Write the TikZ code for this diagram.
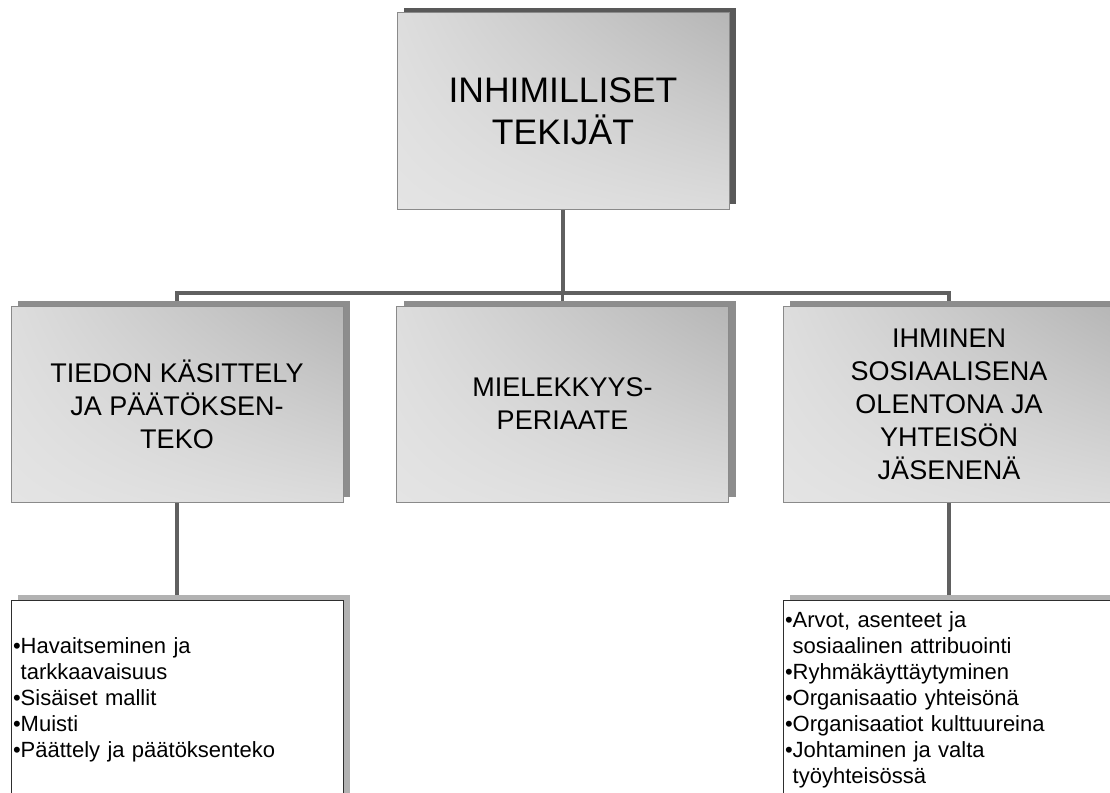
\documentclass[tikz,border=0pt]{standalone}
\usepackage{fontspec}
\setmainfont{Liberation Sans}
\usetikzlibrary{shadows,shadings,backgrounds}
\definecolor{connc}{HTML}{606060}
\definecolor{boxborder}{HTML}{8A8A8A}
\definecolor{listborder}{HTML}{2E2E2E}
\definecolor{shadowdark}{HTML}{595959}
\definecolor{shadowmid}{HTML}{8D8D8D}
\definecolor{shadowlight}{HTML}{B2B2B2}
\definecolor{gUL}{HTML}{DDDDDD}
\definecolor{gUR}{HTML}{B6B6B6}
\definecolor{gLL}{HTML}{E4E4E4}
\definecolor{gLR}{HTML}{DCDCDC}
\tikzset{
  gbox/.style={rectangle, minimum width=332pt, minimum height=196pt, inner sep=0pt,
    draw=boxborder, line width=1pt, upper left=gUL, upper right=gUR,
    lower left=gLL, lower right=gLR, align=center},
  topbox/.style={gbox, drop shadow={shadow xshift=7pt, shadow yshift=5pt, fill=shadowdark, opacity=1},
    font=\fontsize{35.5}{42}\selectfont},
  midbox/.style={gbox, drop shadow={shadow xshift=7pt, shadow yshift=5pt, fill=shadowmid, opacity=1},
    font=\fontsize{27}{33}\selectfont},
  listbox/.style={rectangle, minimum height=200pt, text width=328pt, inner xsep=2pt, inner ysep=0pt,
    draw=listborder, line width=0.8pt, fill=white, align=left,
    drop shadow={shadow xshift=7pt, shadow yshift=5pt, fill=shadowlight, opacity=1},
    font=\fontsize{22}{26}\selectfont},
  conn/.style={draw=connc, line width=3.5pt}
}
\begin{document}
\begin{tikzpicture}[x=1pt,y=-1pt]
\path[use as bounding box] (0,0) rectangle (1110,792);
\clip (0,0) rectangle (1110,792);

\node[topbox] (top) at (563,111) {INHIMILLISET\\TEKIJÄT};
\node[midbox] (L) at (177,404) {TIEDON KÄSITTELY\\JA PÄÄTÖKSEN-\\TEKO};
\node[midbox] (M) at (562.5,404) {MIELEKKYYS-\\PERIAATE};
\node[midbox] (R) at (949,404) {IHMINEN\\SOSIAALISENA\\OLENTONA JA\\YHTEISÖN\\JÄSENENÄ};

\node[listbox] (BL) at (177,700) {•Havaitseminen ja\\\hphantom{•}tarkkaavaisuus\\•Sisäiset mallit\\•Muisti\\•Päättely ja päätöksenteko};
\node[listbox] (BR) at (949,700) {•Arvot, asenteet ja\\\hphantom{•}sosiaalinen attribuointi\\•Ryhmäkäyttäytyminen\\•Organisaatio yhteisönä\\•Organisaatiot kulttuureina\\•Johtaminen ja valta\\\hphantom{•}työyhteisössä};

\begin{scope}[on background layer]
  \fill[white] (0,0) rectangle (1110,792);
  \coordinate (bus) at (0,293);
  \draw[conn] (top.south) -- (top.south |- bus);
  \draw[conn] (L.north) -- (L.north |- bus) -- (R.north |- bus) -- (R.north);
  \draw[conn] (M.north) -- (M.north |- bus);
  \draw[conn] (L.south) -- (BL.north);
  \draw[conn] (R.south) -- (BR.north);
\end{scope}
\end{tikzpicture}
\end{document}
